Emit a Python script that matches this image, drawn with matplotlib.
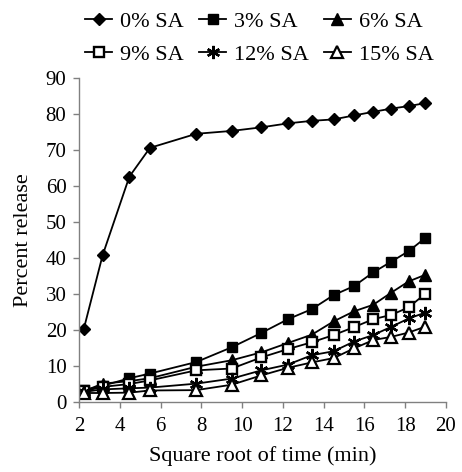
import numpy as np
import matplotlib
matplotlib.use("Agg")
import matplotlib.pyplot as plt

# Square root of time (min) sampling points
x = [2.24, 3.16, 4.47, 5.48, 7.75, 9.49, 10.95, 12.25, 13.42, 14.49, 15.49, 16.43, 17.32, 18.17, 18.97]

sa0 = [20.4, 40.8, 62.6, 70.6, 74.5, 75.3, 76.3, 77.4, 78.1, 78.5, 79.6, 80.6, 81.5, 82.2, 83.0]
sa3 = [3.3, 4.5, 6.6, 7.9, 11.1, 15.2, 19.2, 23.0, 25.8, 29.7, 32.2, 36.0, 39.0, 41.9, 45.5]
sa6 = [3.0, 5.1, 5.8, 6.6, 9.8, 11.6, 13.8, 16.4, 18.7, 22.4, 25.2, 27.0, 30.4, 33.5, 35.3]
sa9 = [3.0, 4.2, 5.0, 6.0, 8.8, 9.3, 12.4, 14.7, 16.6, 18.6, 20.8, 23.0, 24.2, 26.3, 30.0]
sa12 = [2.8, 3.5, 3.8, 4.0, 5.1, 6.5, 8.8, 10.4, 13.0, 14.1, 16.8, 18.6, 20.9, 23.2, 24.8]
sa15 = [2.5, 2.5, 2.6, 3.2, 3.3, 4.8, 7.4, 9.5, 11.0, 12.2, 14.9, 17.2, 18.1, 19.3, 20.9]

labels = ["0% SA", "3% SA", "6% SA", "9% SA", "12% SA", "15% SA"]
xticks = [2, 4, 6, 8, 10, 12, 14, 16, 18, 20]
yticks = [0, 10, 20, 30, 40, 50, 60, 70, 80, 90]

plt.rcParams['font.family'] = ['Liberation Serif', 'DejaVu Serif']

fig = plt.figure(figsize=(4.62, 4.72), dpi=100)
ax = fig.add_axes([79/462, 70/472, (446-79)/462, (402-78)/472])

series = [sa0, sa3, sa6, sa9, sa12, sa15]
styles = [
    dict(marker='D', markersize=6.3, mfc='black', mec='black'),
    dict(marker='s', markersize=7.3, mfc='black', mec='black'),
    dict(marker='^', markersize=8.5, mfc='black', mec='black'),
    dict(marker='s', markersize=6.8, mfc='white', mec='black', mew=1.7),
    dict(marker=(6, 2, 0), markersize=9.5, mfc='black', mec='black', mew=1.7),
    dict(marker='^', markersize=8, mfc='white', mec='black', mew=1.6),
]
handles = []
for ys, st, lab in zip(series, styles, labels):
    h, = ax.plot(x, ys, color='black', lw=1.3, label=lab, **st)
    handles.append(h)

ax.set_xlim(2, 20)
ax.set_ylim(0, 90)
ax.set_xticks(xticks)
ax.set_yticks(yticks)
ax.tick_params(axis='both', labelsize=15, direction='out', length=4, width=1,
               color='#808080')
ax.tick_params(axis='x', pad=7)
ax.tick_params(axis='y', pad=5)
for s in ['top', 'right']:
    ax.spines[s].set_visible(False)
for s in ['left', 'bottom']:
    ax.spines[s].set_color('#808080')
    ax.spines[s].set_linewidth(1.0)

ax.set_xlabel("Square root of time (min)", fontsize=16, labelpad=7)
ax.set_ylabel("Percent release", fontsize=16, labelpad=9)

order = [0, 3, 1, 4, 2, 5]
fig.legend([handles[i] for i in order], [labels[i] for i in order],
           ncol=3, loc='upper left', bbox_to_anchor=(81/462, 1 - 7/472),
           frameon=False, fontsize=16, handlelength=1.2, handletextpad=0.35,
           columnspacing=0.7, labelspacing=0.55, borderaxespad=0.0,
           borderpad=0.2)

fig.savefig("out.png", dpi=100)
